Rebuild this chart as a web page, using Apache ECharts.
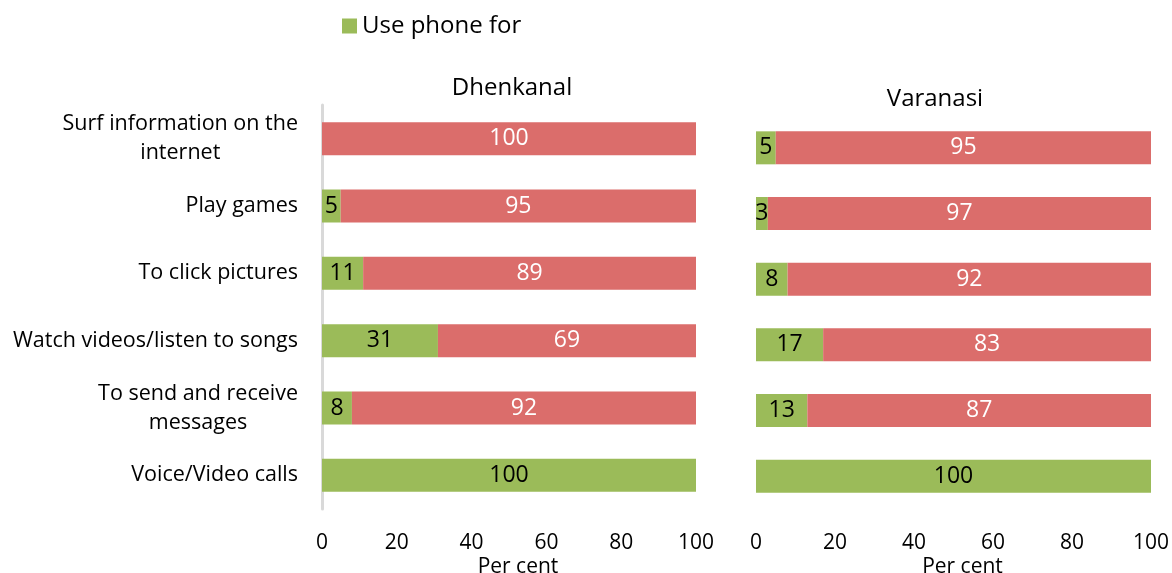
<!DOCTYPE html>
<html><head><meta charset="utf-8">
<script src="https://cdn.jsdelivr.net/npm/echarts@6/dist/echarts.min.js"></script>
<style>html,body{margin:0;padding:0;background:#fff}#c{width:1172px;height:573px}</style>
</head><body><div id="c"></div>
<script>
const categories = ['Surf information on the internet','Play games','To click pictures','Watch videos/listen to songs','To send and receive messages','Voice/Video calls'];
const categoryLabels = ['Surf information on the\ninternet','Play games','To click pictures','Watch videos/listen to songs','To send and receive\nmessages','Voice/Video calls'];
const dhenkanalUse = [0, 5, 11, 31, 8, 100];
const dhenkanalNot = [100, 95, 89, 69, 92, 0];
const varanasiUse = [5, 3, 8, 17, 13, 100];
const varanasiNot = [95, 97, 92, 83, 87, 0];
const xTicks = [0, 20, 40, 60, 80, 100];

const FONT = 'Open Sans';
const GREEN = '#9BBB59', RED = '#DB6D6B';
const chart = echarts.init(document.getElementById('c'));
const labelMap = {};
categories.forEach((c,i)=>labelMap[c]=categoryLabels[i]);

function xAxis(gi){
  return {gridIndex:gi,type:'value',min:xTicks[0],max:xTicks[xTicks.length-1],interval:20,
    axisLine:{show:false},axisTick:{show:false},splitLine:{show:false},
    axisLabel:{fontFamily:FONT,fontSize:21,color:'#000',margin:24},
    name:'Per cent',nameLocation:'middle',nameGap:48,nameMoveOverlap:false,
    nameTextStyle:{fontFamily:FONT,fontSize:21,color:'#000',padding:[0,0,0,18]}};
}
function valLabel(color){
  return {show:true,position:'inside',fontFamily:FONT,fontSize:23,color:color,
    formatter:p=>p.value===0?'':String(p.value)};
}
function series(name,data,color,lc,gi){
  return {name:name,type:'bar',stack:'s'+gi,xAxisIndex:gi,yAxisIndex:gi,data:data,barWidth:33,
    itemStyle:{color:color},label:valLabel(lc),emphasis:{disabled:true}};
}
chart.setOption({
  animation:false,
  textStyle:{fontFamily:FONT},
  legend:{data:['Use phone for'],left:337,top:9,itemWidth:15,itemHeight:15,itemGap:8,
    icon:'rect',textStyle:{fontFamily:FONT,fontSize:24,color:'#000'}},
  title:[
    {text:'Dhenkanal',left:507,top:71,textAlign:'center',textStyle:{fontFamily:FONT,fontSize:24,fontWeight:'normal',color:'#000'}},
    {text:'Varanasi',left:930,top:82,textAlign:'center',textStyle:{fontFamily:FONT,fontSize:24,fontWeight:'normal',color:'#000'}}
  ],
  grid:[
    {left:322,width:374,top:105,height:404,outerBoundsMode:'none',containLabel:false},
    {left:756,width:395,top:115,height:394,outerBoundsMode:'none',containLabel:false}
  ],
  xAxis:[xAxis(0),xAxis(1)],
  yAxis:[
    {gridIndex:0,type:'category',data:categories,inverse:true,
      axisLine:{show:true,lineStyle:{color:'#D9D9D9',width:3}},axisTick:{show:false},
      axisLabel:{fontFamily:FONT,fontSize:21.5,color:'#000',margin:24,lineHeight:29,
        formatter:v=>labelMap[v].split('\n').map(l=>'{c|'+l+'}').join('\n'),
        rich:{c:{align:'center',fontFamily:FONT,fontSize:21.5,color:'#000',lineHeight:29}}}},
    {gridIndex:1,type:'category',data:categories,inverse:true,
      axisLine:{show:false},axisTick:{show:false},axisLabel:{show:false}}
  ],
  series:[
    series('Use phone for',dhenkanalUse,GREEN,'#000',0),
    series('Do not use',dhenkanalNot,RED,'#fff',0),
    series('Use phone for',varanasiUse,GREEN,'#000',1),
    series('Do not use',varanasiNot,RED,'#fff',1)
  ]
});
</script></body></html>
